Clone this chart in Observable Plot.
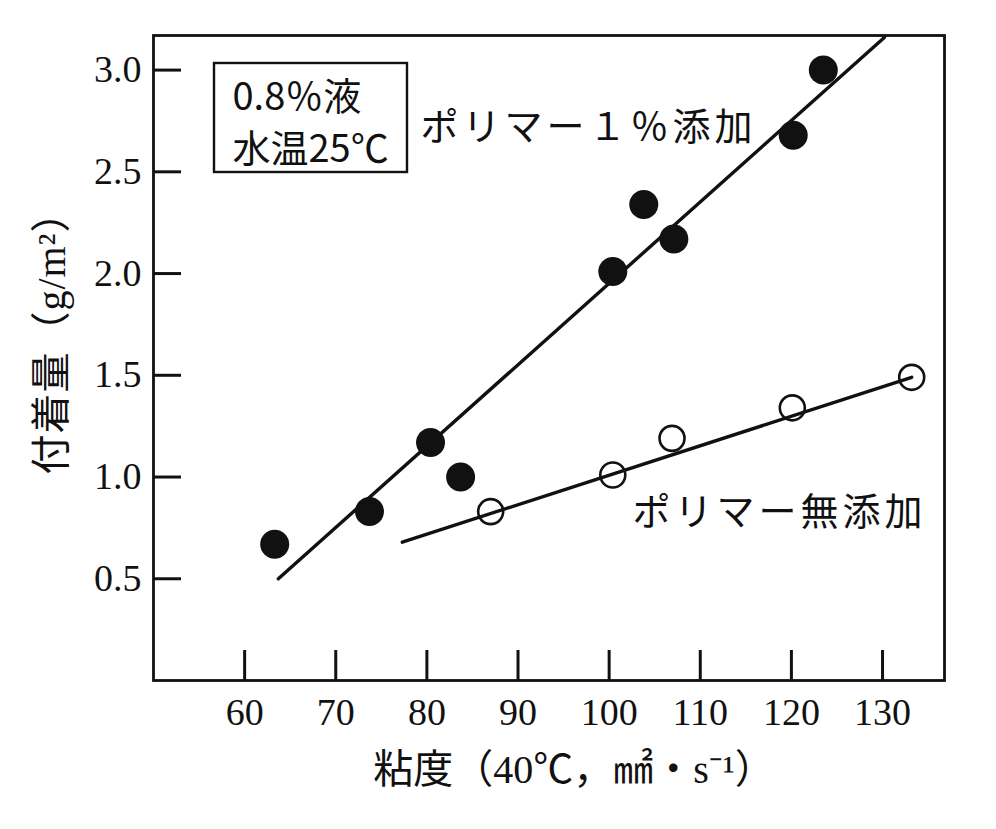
<!DOCTYPE html>
<html><head><meta charset="utf-8">
<script src="https://cdn.jsdelivr.net/npm/d3@7"></script>
<script src="https://cdn.jsdelivr.net/npm/@observablehq/plot@0.6"></script>
<style>body{margin:0;background:#fff}</style>
</head><body><div id="chart"></div>
<script>
// Data
const filledX = [63.3, 73.7, 80.4, 83.7, 100.4, 103.8, 107.1, 120.2, 123.5];
const filledY = [0.67, 0.83, 1.17, 1.00, 2.01, 2.34, 2.17, 2.68, 3.00];
const openX = [87.0, 100.4, 106.9, 120.1, 133.2];
const openY = [0.83, 1.01, 1.19, 1.34, 1.49];
const fitFilledX = [63.7, 130.2];
const fitFilledY = [0.50, 3.16];
const fitOpenX = [77.3, 133.2];
const fitOpenY = [0.68, 1.49];
const xTicks = [60, 70, 80, 90, 100, 110, 120, 130];
const yTicks = [0.5, 1.0, 1.5, 2.0, 2.5, 3.0];
const xLabel = "粘度（40℃，㎟・s⁻¹）";
const yLabel = "付着量（g/m²）";
const seriesLabels = ["ポリマー１％添加", "ポリマー無添加"];
const conditionLines = ["0.8％液", "水温25℃"];

const zip = (xs, ys) => xs.map((x, i) => ({x, y: ys[i]}));
const filled = zip(filledX, filledY);
const open = zip(openX, openY);
const fitFilled = zip(fitFilledX, fitFilledY);
const fitOpen = zip(fitOpenX, fitOpenY);

const ink = "#111";
const serif = "'Liberation Serif','Noto Sans CJK JP',serif";
const cjk = "'Noto Sans CJK JP','Noto Sans',sans-serif";

const conditionBox = (index, scales, values, dims) => {
  const g = d3.create("svg:g");
  g.append("rect")
    .attr("x", dims.marginLeft + 61)
    .attr("y", dims.marginTop + 28)
    .attr("width", 193)
    .attr("height", 109)
    .attr("fill", "none")
    .attr("stroke", ink)
    .attr("stroke-width", 2.4);
  return g.node();
};

const chart = Plot.plot({
  width: 996,
  height: 829,
  marginLeft: 153,
  marginRight: 52,
  marginTop: 35,
  marginBottom: 149,
  x: {domain: [50, 136.8]},
  y: {domain: [0, 3.17]},
  style: {fontFamily: serif, background: "white", color: ink},
  marks: [
    Plot.frame({stroke: ink, strokeWidth: 2.8}),
    Plot.axisX(xTicks, {tickSize: -30, tickPadding: 48, tickFormat: d => String(d), fontSize: 38, label: null, strokeWidth: 3}),
    Plot.axisY(yTicks, {tickSize: -28, tickPadding: 40, tickFormat: d => d.toFixed(1), fontSize: 38, label: null, strokeWidth: 3}),
    Plot.line(fitFilled, {x: "x", y: "y", stroke: ink, strokeWidth: 3.4}),
    Plot.line(fitOpen, {x: "x", y: "y", stroke: ink, strokeWidth: 3.4}),
    Plot.dot(filled, {x: "x", y: "y", r: 14.5, fill: ink, stroke: "none"}),
    Plot.dot(open, {x: "x", y: "y", r: 12.5, fill: "none", stroke: ink, strokeWidth: 2.6}),
    conditionBox,
    Plot.text([conditionLines.join("\n")], {text: d => d, frameAnchor: "top-left", dx: 79, dy: 84, textAnchor: "start", lineAnchor: "middle", lineHeight: 1.37, fontSize: 38, fontFamily: cjk, fill: ink}),
    Plot.text([seriesLabels[0]], {text: d => d, frameAnchor: "top-left", dx: 267, dy: 92, textAnchor: "start", lineAnchor: "middle", fontSize: 38, fontFamily: cjk, fill: ink}),
    Plot.text([seriesLabels[1]], {text: d => d, frameAnchor: "top-left", dx: 479, dy: 477, textAnchor: "start", lineAnchor: "middle", fontSize: 38, fontFamily: cjk, fill: ink}),
    Plot.text([xLabel], {text: d => d, frameAnchor: "bottom", dx: 25, dy: 90, textAnchor: "middle", lineAnchor: "middle", fontSize: 40, fontFamily: serif, fill: ink}),
    Plot.text([yLabel], {text: d => d, frameAnchor: "left", dx: -101, dy: -25, rotate: -90, textAnchor: "middle", lineAnchor: "middle", fontSize: 40, fontFamily: serif, fill: ink})
  ]
});
d3.select(chart).selectAll("text")
  .filter(function() { return seriesLabels.includes(this.textContent); })
  .attr("letter-spacing", 4);
d3.select(chart).selectAll("text")
  .filter(function() { return this.textContent === yLabel; })
  .attr("letter-spacing", 1);
document.getElementById("chart").appendChild(chart);
</script>
</body></html>
